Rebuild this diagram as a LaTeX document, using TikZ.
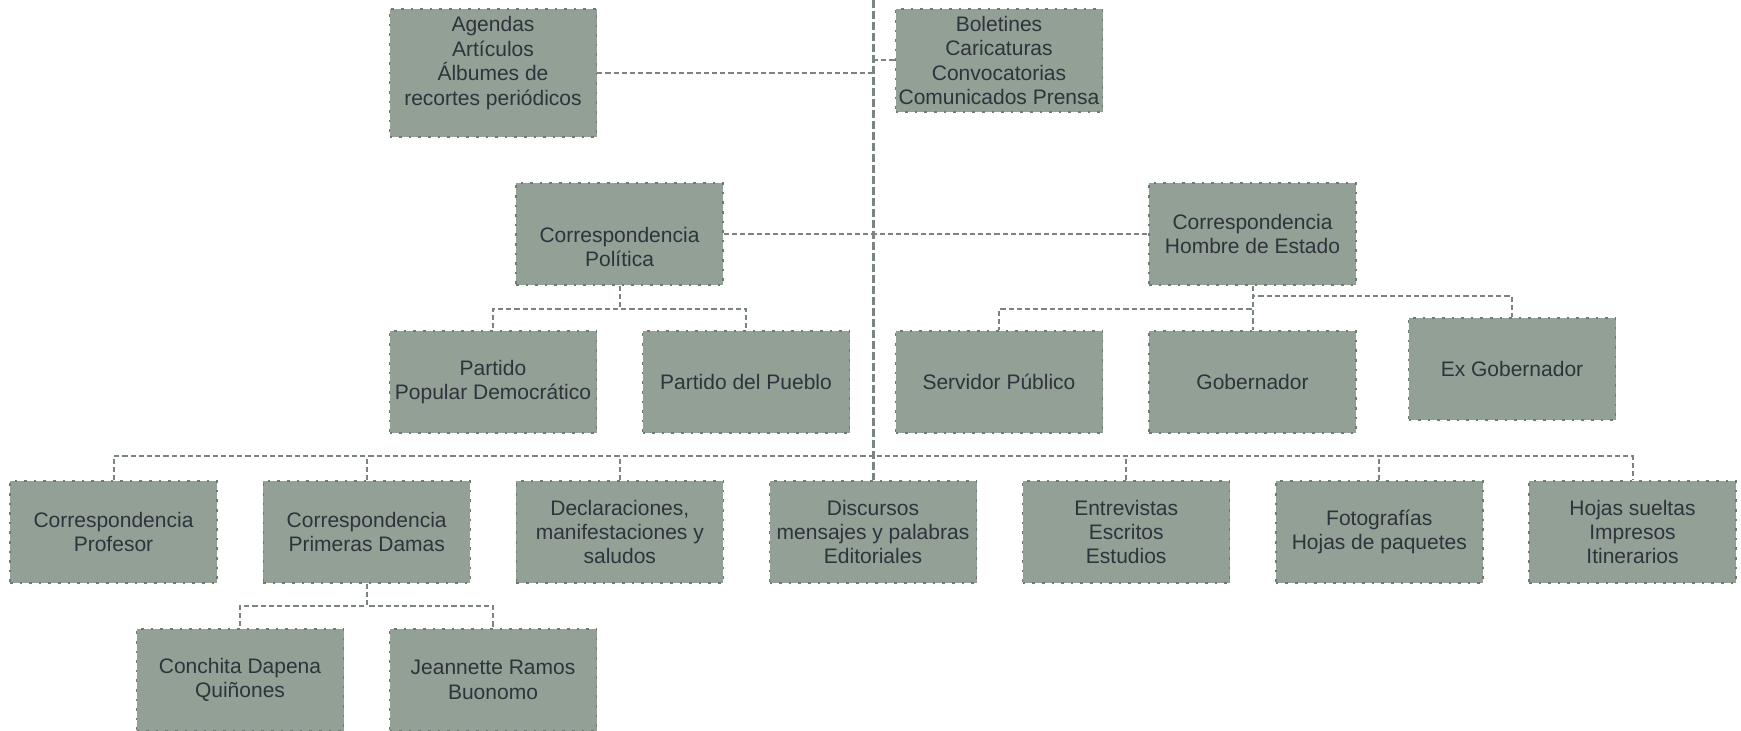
\documentclass[tikz,border=0pt]{standalone}
\usepackage{fontspec}
\setmainfont{Liberation Sans}
\usepackage{tikz}
\definecolor{cajagris}{HTML}{92A096}
\definecolor{bordegris}{HTML}{6E7A74}
\definecolor{bordeclaro}{HTML}{C9D0CB}
\definecolor{lineagris}{HTML}{7A8580}
\definecolor{textogris}{HTML}{2F333B}
\tikzset{
	caja/.style={fill=cajagris,draw=bordegris,line width=0.7pt,dash pattern=on 1.3pt off 3.5pt,
		preaction={draw=bordeclaro,line width=0.7pt},
		minimum width=103.5pt,minimum height=51pt,inner sep=0pt,align=center,
		text=textogris,font=\fontsize{10.5}{12.2}\selectfont},
	enlace/.style={draw=lineagris,line width=1pt,dash pattern=on 2.6pt off 1.5pt},
	tronco/.style={draw=lineagris,line width=1.5pt,dash pattern=on 4pt off 1.5pt}
}
\begin{document}
\begin{tikzpicture}[x=0.5pt,y=-0.5pt]
			\useasboundingbox (0,0) rectangle (1741,731);
			\coordinate (arriba) at (873,0);
			\node[caja,minimum height=64pt] (agendas) at (493,73) {Agendas\\Artículos\\Álbumes de\\recortes periódicos\\\mbox{}};
			\node[caja,minimum height=51.5pt] (boletines) at (999,60.5) {Boletines\\Caricaturas\\Convocatorias\\Comunicados Prensa};
			\node[caja] (politica) at (619.5,234) {\strut\\Correspondencia\\Política};
			\node[caja] (estado) at (1252.5,234) {Correspondencia\\Hombre de Estado};
			\node[caja] (ppd) at (493,382) {Partido\\Popular Democrático};
			\node[caja] (pueblo) at (746,382) {Partido del Pueblo};
			\node[caja] (servidor) at (999,382) {Servidor Público};
			\node[caja] (gobernador) at (1252.5,382) {Gobernador};
			\node[caja] (exgob) at (1512,369) {Ex Gobernador};
			\node[caja] (profesor) at (113.5,532) {Correspondencia\\Profesor};
			\node[caja] (damas) at (366.7,532) {Correspondencia\\Primeras Damas};
			\node[caja] (declaraciones) at (619.8,532) {Declaraciones,\\manifestaciones y\\saludos};
			\node[caja] (discursos) at (873,532) {Discursos\\mensajes y palabras\\Editoriales};
			\node[caja] (entrevistas) at (1126.2,532) {Entrevistas\\Escritos\\Estudios};
			\node[caja] (fotografias) at (1379.3,532) {Fotografías\\Hojas de paquetes};
			\node[caja] (hojas) at (1632.5,532) {Hojas sueltas\\Impresos\\Itinerarios};
			\node[caja] (conchita) at (240,680) {Conchita Dapena\\Quiñones};
			\node[caja] (jeannette) at (493,680) {Jeannette Ramos\\Buonomo};
			\draw[enlace] (agendas.east) -- (agendas.east -| arriba);
			\draw[enlace] (boletines.west -| arriba) -- (boletines.west);
			\draw[enlace] (politica.east) -- (estado.west);
			\draw[enlace] (politica.south) -- ++(0,23) -| (ppd.north);
			\draw[enlace] (politica.south) -- ++(0,23) -| (pueblo.north);
			\draw[enlace] (estado.south) -- (gobernador.north);
			\draw[enlace] (estado.south) -- ++(0,10.5) -| (exgob.north);
			\draw[enlace] (estado.south) -- ++(0,23.6) -| (servidor.north);
			\draw[enlace] (profesor.north) -- ++(0,-24) -| (hojas.north);
			\foreach \hijo in {damas,declaraciones,entrevistas,fotografias}
				\draw[enlace] (\hijo.north) -- ++(0,-24);
			\draw[enlace] (damas.south) -- ++(0,22) -| (conchita.north);
			\draw[enlace] (damas.south) -- ++(0,22) -| (jeannette.north);
			\draw[tronco] (arriba) -- (discursos.north);
		\end{tikzpicture}
\end{document}
